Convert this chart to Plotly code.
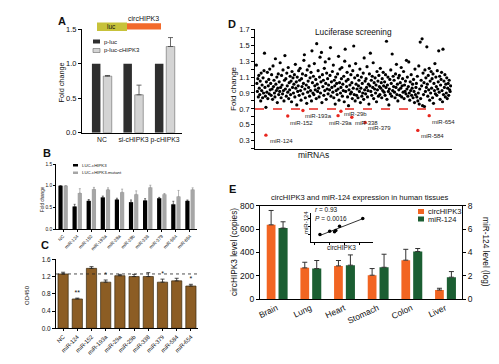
import numpy as np
import plotly.graph_objects as go

W, H = 499, 364
def px(x): return x / W
def py(y): return 1 - y / H

FONT = "Liberation Sans, Arial, sans-serif"

# ---------------- Panel A ----------------
a_cats = ["NC", "si-cHIPK3", "p-cHIPK3"]
a_pluc = [1.0, 1.0, 1.0]
a_pluc_c = [0.82, 0.55, 1.25]
a_pluc_c_err = [0.01, 0.14, 0.13]

# ---------------- Panel B ----------------
mirs = ["NC", "miR-124", "miR-152", "miR-193a", "miR-29a", "miR-29b",
        "miR-338", "miR-379", "miR-584", "miR-654"]
b_wt = [1.0, 0.52, 0.65, 0.73, 0.68, 0.62, 0.66, 0.71, 0.57, 0.65]
b_wt_err = [0, 0.05, 0.03, 0.03, 0.03, 0.05, 0.04, 0.02, 0.07, 0.02]
b_mut = [1.0, 0.83, 0.92, 0.91, 0.85, 0.80, 0.96, 0.80, 0.75, 0.91]
b_mut_err = [0, 0.10, 0.04, 0.04, 0.07, 0.08, 0.05, 0.02, 0.14, 0.04]

# ---------------- Panel C ----------------
c_od = [1.26, 0.68, 1.39, 1.07, 1.22, 1.20, 1.20, 1.07, 1.10, 0.98]
c_err = [0.04, 0.02, 0.04, 0.05, 0.03, 0.05, 0.09, 0.07, 0.06, 0.04]
c_sig = ["", "**", "", "*", "", "", "", "*", "", "*"]
c_ref = 1.26

# ---------------- Panel D ----------------
d_black = [
    1.25, 1.02, 0.92, 1.08, 0.85, 1.12, 0.96, 0.88, 1.05, 0.80,
    1.15, 0.93, 1.00, 0.84, 1.09, 0.90, 1.18, 1.40, 0.97, 0.86,
    0.72, 1.04, 0.91, 1.16, 0.83, 0.99, 1.07, 0.89, 1.20, 0.94,
    1.02, 0.87, 1.13, 0.95, 0.82, 1.24, 0.98, 1.06, 0.90, 0.85,
    1.33, 1.01, 0.93, 1.10, 0.78, 0.96, 1.14, 0.88, 1.04, 0.92,
    1.28, 0.97, 0.84, 1.12, 1.00, 0.89, 1.19, 0.93, 0.80, 1.06,
    1.37, 0.95, 1.08, 0.86, 1.15, 0.99, 0.91, 1.22, 0.83, 1.03,
    0.94, 1.11, 0.88, 1.05, 0.79, 1.17, 0.97, 1.09, 0.90, 1.01,
    1.13, 0.85, 1.26, 0.96, 1.04, 0.75, 1.10, 0.92, 0.99, 1.18,
    0.87, 1.06, 1.21, 0.93, 0.81, 1.08, 0.98, 1.14, 0.89, 1.02,
    1.31, 1.38, 0.95, 0.84, 1.12, 1.00, 0.77, 1.19, 0.91, 1.05,
    0.97, 1.24, 0.86, 1.09, 0.93, 1.16, 0.80, 1.43, 1.03, 0.90,
    1.11, 0.88, 1.27, 0.99, 0.94, 1.07, 0.83, 1.52, 1.01, 0.92,
    1.18, 0.96, 0.85, 1.10, 1.35, 0.90, 1.04, 1.41, 0.78, 1.13,
    0.98, 1.06, 0.87, 1.21, 0.93, 1.29, 1.02, 0.82, 1.15, 0.95,
    1.08, 0.89, 1.00, 1.33, 0.94, 1.12, 1.47, 0.86, 1.04, 0.97,
    1.17, 0.91, 1.25, 0.84, 1.06, 0.99, 0.76, 1.10, 0.93, 1.02,
    0.88, 1.14, 0.95, 1.36, 0.81, 1.03, 1.20, 0.90, 0.97, 1.08,
    1.22, 0.86, 1.01, 0.93, 1.11, 0.79, 1.30, 1.45, 0.92, 1.05,
    0.98, 1.16, 0.85, 1.07, 0.74, 0.94, 1.24, 1.00, 0.89, 1.13,
    0.91, 1.03, 0.83, 1.18, 0.96, 1.49, 0.88, 1.09, 0.80, 1.27,
    1.01, 0.87, 0.95, 1.12, 0.84, 0.99, 1.06, 0.92, 1.20, 0.78,
    0.96, 1.10, 0.86, 1.02, 0.90, 1.15, 0.82, 1.34, 0.94, 1.05,
    0.89, 1.08, 0.97, 1.23, 0.85, 0.93, 1.01, 0.76, 1.14, 0.99,
    1.40, 0.92, 1.06, 0.87, 1.11, 0.97, 1.28, 0.83, 1.03, 0.95,
    1.09, 0.90, 1.00, 0.79, 1.17, 0.94, 1.05, 0.86, 1.12, 0.98,
    0.88, 1.21, 0.96, 1.03, 0.84, 1.08, 0.93, 1.16, 0.99, 0.91,
    1.04, 0.87, 1.13, 0.97, 1.55, 0.82, 1.00, 1.10, 0.92, 0.75,
    0.95, 1.07, 0.89, 1.19, 1.02, 0.86, 1.39, 0.93, 1.11, 0.98,
    1.06, 0.91, 0.84, 1.14, 0.97, 1.26, 0.88, 1.01, 0.80, 1.09,
    0.94, 1.12, 0.87, 1.03, 0.96, 1.22, 0.85, 0.99, 1.08, 0.91,
    1.17, 0.83, 1.00, 0.92, 1.05, 0.89, 1.31, 0.95, 1.10, 0.86,
    0.98, 1.29, 0.90, 0.81, 1.04, 0.93, 1.13, 0.87, 0.96, 1.01,
    0.84, 1.07, 0.92, 0.78, 1.20, 0.88, 0.97, 1.02, 0.85, 1.11,
    0.80, 0.90, 1.24, 0.76, 0.95, 1.54, 0.83, 1.06, 0.99, 1.58,
    0.74, 1.15, 0.88, 1.03, 0.73, 1.19, 0.92, 1.09, 0.97, 1.48,
    1.01, 0.86, 1.12, 0.94, 1.21, 0.81, 1.05, 0.90, 1.17, 0.96,
    1.08, 0.84, 1.14, 0.77, 1.02, 0.93, 1.27, 0.89, 1.10, 0.98,
    0.87, 1.18, 0.95, 1.04, 1.43, 0.91, 1.11, 0.82, 1.00, 1.07,
    1.16, 0.93, 0.79, 1.45, 0.88, 1.05, 0.97, 1.13, 0.85, 1.01,
    0.90, 1.09, 0.83, 0.96, 1.02, 0.87, 1.06, 0.94, 0.92, 0.99,
]
d_black_idx = list(range(len(d_black)))
d_red_names = ["miR-124", "miR-152", "miR-193a", "miR-29a", "miR-29b",
               "miR-338", "miR-379", "miR-584", "miR-654"]
d_red_idx = [20, 66, 98, 172, 178, 201, 229, 340, 364]
d_red_val = [0.37, 0.61, 0.68, 0.615, 0.67, 0.595, 0.53, 0.43, 0.615]
d_cutoff = 0.7
# label offsets (px) for the red miRNA labels
d_lab_off = [(2, -1), (0, -2), (0, -1), (-11, -2), (1, 2), (1, -1), (1, -1), (1, -1), (1, -1)]

# ---------------- Panel E ----------------
tissues = ["Brain", "Lung", "Heart", "Stomach", "Colon", "Liver"]
e_circ = [636, 267, 284, 204, 333, 77]
e_circ_err = [123, 48, 46, 57, 93, 15]
e_mir = [6.08, 2.61, 2.90, 2.72, 4.07, 1.87]
e_mir_err = [0.54, 0.69, 0.88, 1.12, 0.26, 0.48]
inset_r = "0.93"
inset_p = "0.0016"

ORANGE = "#F26522"
GREEN = "#1B5E32"
BROWN = "#8C5D24"

fig = go.Figure()

def up_err(arr, color="#222", width=2, thick=0.8):
    return dict(type="data", symmetric=False, array=arr, arrayminus=[0] * len(arr),
                color=color, thickness=thick, width=width)

# ---- A bars
fig.add_trace(go.Bar(x=a_cats, y=a_pluc, xaxis="x", yaxis="y", width=0.27, offset=-0.32,
                     marker=dict(color="#2e2e2e", line=dict(width=0))))
fig.add_trace(go.Bar(x=a_cats, y=a_pluc_c, xaxis="x", yaxis="y", width=0.27, offset=0.04,
                     marker=dict(color="#d4d4d4", line=dict(color="#666", width=0.6)),
                     error_y=up_err(a_pluc_c_err, color="#444", width=2.5)))

# ---- B bars
fig.add_trace(go.Bar(x=mirs, y=b_wt, xaxis="x2", yaxis="y2", width=0.3, offset=-0.33,
                     marker=dict(color="#000000", line=dict(width=0)),
                     error_y=up_err(b_wt_err, width=1, thick=0.6)))
fig.add_trace(go.Bar(x=mirs, y=b_mut, xaxis="x2", yaxis="y2", width=0.3, offset=0.04,
                     marker=dict(color="#a6a6a6", line=dict(width=0)),
                     error_y=up_err(b_mut_err, color="#888", width=1, thick=0.6)))

# ---- C bars
fig.add_trace(go.Bar(x=mirs, y=c_od, xaxis="x3", yaxis="y3", width=0.72, offset=-0.36,
                     marker=dict(color=BROWN, line=dict(color="#3a2a10", width=0.7)),
                     error_y=up_err(c_err, width=2, thick=0.8)))
fig.add_trace(go.Scatter(x=mirs, y=[v + e + 0.03 for v, e in zip(c_od, c_err)],
                         text=c_sig, mode="text", textposition="top center",
                         textfont=dict(size=7, color="#111", family=FONT),
                         xaxis="x3", yaxis="y3", hoverinfo="skip"))

# ---- D scatter
fig.add_trace(go.Scatter(x=d_black_idx, y=d_black, mode="markers", xaxis="x4", yaxis="y4",
                         marker=dict(color="#000", size=3.2, line=dict(width=0))))
fig.add_trace(go.Scatter(x=d_red_idx, y=d_red_val, mode="markers", xaxis="x4", yaxis="y4",
                         marker=dict(color="#E8261E", size=3.4, line=dict(width=0))))

# ---- E bars
fig.add_trace(go.Bar(x=tissues, y=e_circ, xaxis="x5", yaxis="y5", width=0.26, offset=-0.30,
                     marker=dict(color=ORANGE, line=dict(width=0)),
                     error_y=up_err(e_circ_err, color="#333", width=2.5, thick=1)))
fig.add_trace(go.Bar(x=tissues, y=e_mir, xaxis="x5", yaxis="y6", width=0.27, offset=0.05,
                     marker=dict(color=GREEN, line=dict(width=0)),
                     error_y=up_err(e_mir_err, color="#333", width=2.5, thick=1)))

# ---- Inset
slope, intercept = np.polyfit(e_circ, e_mir, 1)
lx = np.array([min(e_circ), max(e_circ)])
fig.add_trace(go.Scatter(x=lx, y=slope * lx + intercept, mode="lines", xaxis="x7", yaxis="y7",
                         line=dict(color="#000", width=0.8)))
fig.add_trace(go.Scatter(x=e_circ, y=e_mir, mode="markers", xaxis="x7", yaxis="y7",
                         marker=dict(color="#000", size=3.5)))

base_ax = dict(showgrid=False, zeroline=False, showline=True, linecolor="#000", linewidth=1,
               ticks="outside", tickcolor="#000", automargin=False)

def tf(s):
    return dict(size=s, family=FONT, color="#111")

layout = dict(
    width=W, height=H, autosize=False, margin=dict(l=0, r=0, t=0, b=0, pad=0, autoexpand=False),
    plot_bgcolor="rgba(0,0,0,0)", paper_bgcolor="white", showlegend=False,
    barmode="overlay", font=dict(family=FONT),
    # A
    xaxis=dict(base_ax, domain=[px(82), px(182)], anchor="y", type="category",
               range=[-0.635, 2.54], ticks="", tickangle=0, tickfont=tf(6.8)),
    yaxis=dict(base_ax, domain=[py(132.7), py(29.3)], anchor="x", range=[0, 1.5],
               tickvals=[0, 0.5, 1.0, 1.5], tickformat=".1f", ticklen=3, tickfont=tf(7.5)),
    # B
    xaxis2=dict(base_ax, domain=[px(56), px(197)], anchor="y2", type="category",
                range=[-0.5, 9.5], ticklen=2, tickangle=-45, tickfont=tf(4.6), linewidth=0.8),
    yaxis2=dict(base_ax, domain=[py(229), py(164)], anchor="x2", range=[0, 1.5],
                tickvals=[0, 0.5, 1.0, 1.5], tickformat=".1f", ticklen=2, tickfont=tf(4.8),
                linewidth=0.8),
    # C
    xaxis3=dict(base_ax, domain=[px(56), px(198)], anchor="y3", type="category",
                range=[-0.5, 9.5], ticklen=2, tickangle=-45, tickfont=tf(5.8)),
    yaxis3=dict(base_ax, domain=[py(328.3), py(259.3)], anchor="x3", range=[0, 1.6],
                tickvals=[0, 0.4, 0.8, 1.2, 1.6], tickformat=".1f", ticklen=3, tickfont=tf(6.5)),
    # D
    xaxis4=dict(base_ax, domain=[px(255), px(452)], anchor="y4", range=[-3, 412],
                ticks="", showticklabels=False, linewidth=0.8),
    yaxis4=dict(base_ax, domain=[py(148.7), py(29.3)], anchor="x4", range=[0.2, 1.7],
                tickvals=[0.3, 0.5, 0.7, 0.9, 1.1, 1.3, 1.5, 1.7], tickformat=".1f",
                ticklen=3, tickfont=tf(7.5), linewidth=0.8,
                minor=dict(ticks="outside", tick0=0.2, dtick=0.1, ticklen=3, tickcolor="#000")),
    # E
    xaxis5=dict(base_ax, domain=[px(260), px(462)], anchor="y5", type="category",
                range=[-0.5, 5.5], ticks="", tickangle=-25, tickfont=tf(8.5), mirror=True),
    yaxis5=dict(base_ax, domain=[py(299), py(205.7)], anchor="x5", range=[0, 800],
                tickvals=[0, 200, 400, 600, 800], ticklen=3, tickfont=tf(8.5)),
    yaxis6=dict(base_ax, overlaying="y5", anchor="x5", side="right", range=[0, 8],
                tickvals=[0, 2, 4, 6, 8], ticklen=3, tickfont=tf(8.5)),
    # Inset
    xaxis7=dict(base_ax, domain=[px(311), px(373)], anchor="y7", range=[-40, 770],
                tickvals=[0, 200, 400, 600], ticklen=2, showticklabels=False, linewidth=0.8),
    yaxis7=dict(base_ax, domain=[py(241.7), py(213)], anchor="x7", range=[0, 7.5],
                tickvals=[2, 4, 6], ticklen=2, showticklabels=False, linewidth=0.8),
)
fig.update_layout(**layout)

shapes = []
annotations = []

def ann(x, y, text, size, bold=False, xanchor="center", yanchor="middle", angle=0, color="#111"):
    t = f"<b>{text}</b>" if bold else text
    annotations.append(dict(x=px(x), y=py(y), xref="paper", yref="paper", text=t,
                            showarrow=False, xanchor=xanchor, yanchor=yanchor, textangle=angle,
                            font=dict(size=size, family=FONT, color=color)))

def rect(x0, y0, x1, y1, color, line=None):
    shapes.append(dict(type="rect", xref="paper", yref="paper", x0=px(x0), x1=px(x1),
                       y0=py(y1), y1=py(y0), fillcolor=color,
                       line=dict(width=0.6 if line else 0, color=line or color)))

# Panel letters
ann(62, 21, "A", 11, bold=True)
ann(47, 153, "B", 11, bold=True)
ann(45, 245, "C", 11, bold=True)
ann(232, 24, "D", 11, bold=True)
ann(232, 189, "E", 11, bold=True)

# A: construct and legend
rect(97, 22.5, 127, 31, "#C7C23A")
rect(127, 23.3, 161, 29.5, "#F26A2B")
ann(111, 27, "luc", 6.5)
ann(143, 18, "circHIPK3", 7)
rect(93, 39.5, 100, 43.5, "#2e2e2e")
ann(102, 41.5, "p-luc", 6, xanchor="left")
rect(93, 48.5, 100, 52.5, "#d4d4d4", line="#666")
ann(102, 50.5, "p-luc-cHIPK3", 6, xanchor="left")
ann(61.5, 83, "Fold change", 7.3, angle=-90)

# B legend and label
rect(73, 164, 78, 166.5, "#000")
ann(80, 165.3, "LUC-cHIPK3", 4.3, xanchor="left")
rect(73, 171.5, 78, 174, "#a6a6a6")
ann(80, 172.8, "LUC-cHIPK3-mutant", 4.3, xanchor="left")
ann(43, 199, "Fold change", 4.6, angle=-90)

# C label and reference line
ann(27, 295, "OD450", 6, angle=-90)
shapes.append(dict(type="line", xref="x3 domain", yref="y3", x0=0, x1=1, y0=c_ref, y1=c_ref,
                   line=dict(color="#222", width=0.8, dash="dot")))

# D
ann(353, 32, "Luciferase screening", 8.3)
ann(313, 155, "miRNAs", 8.5)
ann(233, 89, "Fold change", 8, angle=-90)
shapes.append(dict(type="line", xref="x4 domain", yref="y4", x0=0, x1=1, y0=d_cutoff,
                   y1=d_cutoff, line=dict(color="#E8261E", width=1.5, dash="dash")))
for name, xi, yv, (dx, dy) in zip(d_red_names, d_red_idx, d_red_val, d_lab_off):
    annotations.append(dict(x=xi, y=yv, xref="x4", yref="y4", text=name, showarrow=False,
                            xanchor="left", yanchor="top", xshift=dx, yshift=dy,
                            font=dict(size=6, family=FONT, color="#222")))

# E
ann(359, 197, "circHIPK3 and miR-124 expression in human tissues", 7.6)
ann(234, 252, "circHIPK3 level (copies)", 8.3, angle=-90)
ann(486, 252, "miR-124 level (log)", 8.3, angle=90)
rect(418, 209, 424, 214, ORANGE)
ann(426, 211.5, "circHIPK3", 7.5, xanchor="left")
rect(418, 216.5, 424, 221.5, GREEN)
ann(426, 219, "miR-124", 7.5, xanchor="left")
ann(313, 210, f"<i>r</i> = {inset_r}", 6.5, xanchor="left")
ann(313, 218.5, f"<i>P</i> = {inset_p}", 6.5, xanchor="left")
ann(306, 223, "miR-124", 6, angle=-90)
ann(341, 247.5, "circHIPK3", 6.5)

fig.update_layout(shapes=shapes, annotations=annotations)
fig.write_html("out.html", config={"displayModeBar": False},
               post_script="document.body.style.margin='0';document.body.style.padding='0';")
